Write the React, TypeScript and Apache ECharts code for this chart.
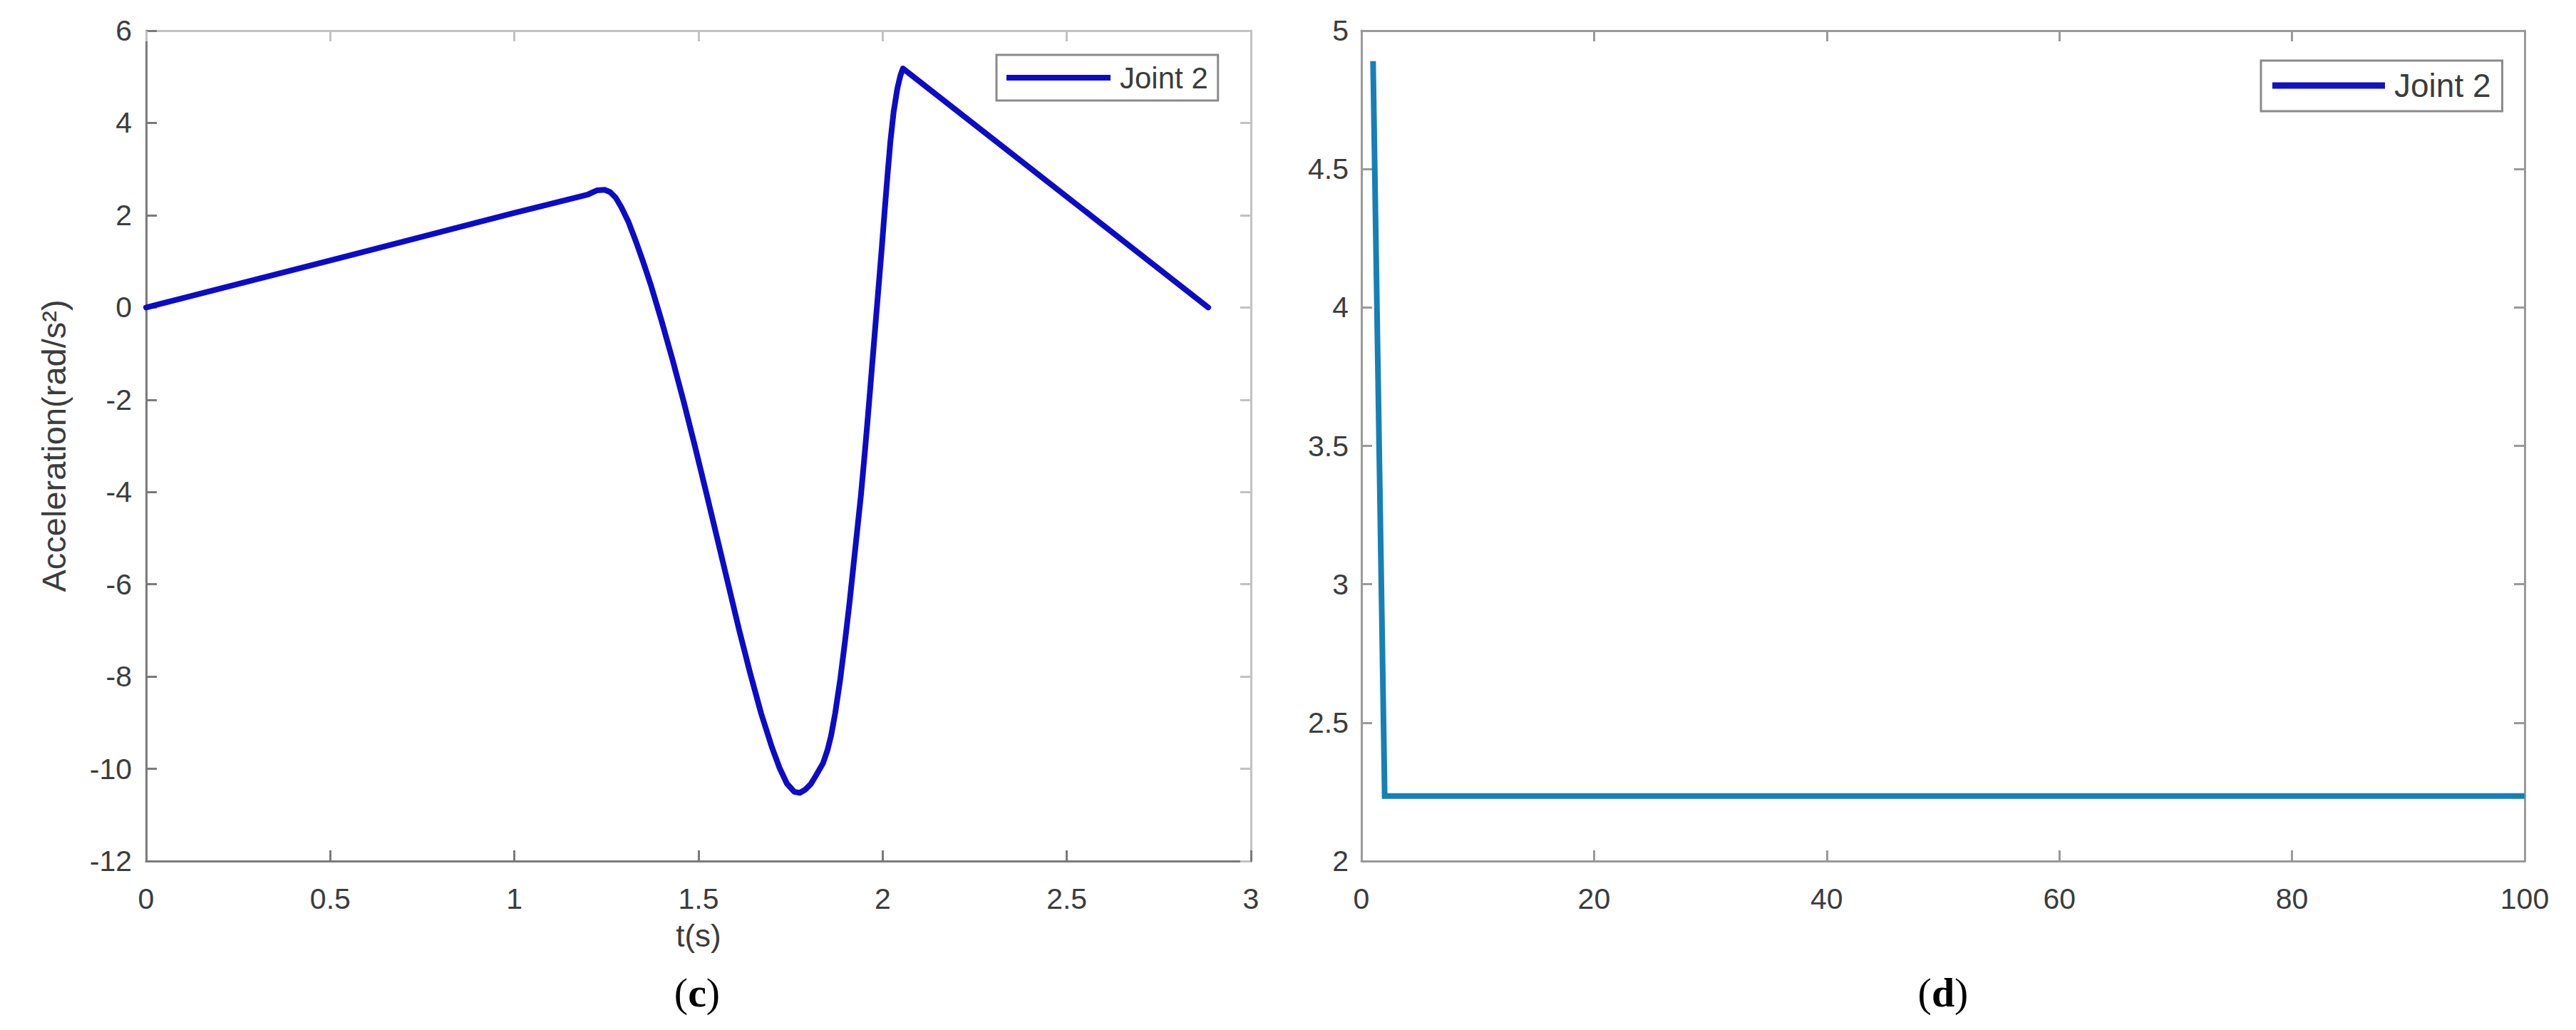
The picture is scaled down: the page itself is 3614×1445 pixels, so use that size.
import React, { useEffect, useRef } from "react";
import * as echarts from "echarts";

// Panel (c): joint 2 acceleration vs time
const accTime = [
  0, 0.5, 1.0, 1.2, 1.225, 1.245, 1.26, 1.275, 1.29, 1.31, 1.33, 1.35, 1.37, 1.4,
  1.43, 1.46, 1.49, 1.52, 1.55, 1.58, 1.61, 1.64, 1.67, 1.7, 1.72, 1.74, 1.76, 1.775,
  1.79, 1.805, 1.82, 1.838, 1.85, 1.86, 1.871, 1.885, 1.898, 1.91, 1.92, 1.93, 1.941,
  1.95, 1.958, 1.966, 1.974, 1.982, 1.99, 1.998, 2.005, 2.013, 2.021, 2.03, 2.04,
  2.048, 2.055, 2.884,
];
const accValue = [
  0, 1.02, 2.05, 2.45, 2.54, 2.55, 2.5, 2.38, 2.18, 1.85, 1.43, 0.98, 0.5, -0.3,
  -1.15, -2.05, -3.0, -3.98, -4.98, -5.98, -6.98, -7.92, -8.8, -9.55, -9.98, -10.32, -10.5, -10.52,
  -10.45, -10.33, -10.13, -9.88, -9.6, -9.28, -8.8, -8.05, -7.22, -6.4, -5.65, -4.9, -4.07,
  -3.28, -2.55, -1.78, -1.0, -0.22, 0.55, 1.33, 2.05, 2.85, 3.6, 4.25, 4.75,
  5.02, 5.18, 0,
];

// Panel (d): joint 2 value vs iteration
const iterIndex = [1, 2, 100];
const iterValue = [4.89, 2.235, 2.235];

const seriesName = "Joint 2";
const yTitleC = "Acceleration(rad/s²)";
const xTitleC = "t(s)";
const captionC = "c";
const captionD = "d";

const SANS = "'Liberation Sans', Arial, Helvetica, sans-serif";
const SERIF = "'Liberation Serif', 'Times New Roman', serif";
const LABEL = { fontFamily: SANS, fontSize: 41, color: "#3c3c3c" };

function boxAxis(
  gridIndex: number,
  min: number,
  max: number,
  interval: number,
  position: string,
  color: string,
  showLabel: boolean,
  margin: number
) {
  return {
    type: "value",
    gridIndex,
    min,
    max,
    interval,
    position,
    axisLine: { show: true, onZero: false, lineStyle: { color, width: 3 } },
    axisTick: { show: true, inside: true, length: 15, lineStyle: { color, width: 3 } },
    axisLabel: { show: showLabel, margin, ...LABEL },
    splitLine: { show: false },
  };
}

function caption(x: number, letter: string) {
  return {
    type: "text",
    x,
    y: 1392,
    style: {
      text: "({b|" + letter + "})",
      fontFamily: SERIF,
      fontSize: 58,
      fill: "#000",
      align: "center",
      verticalAlign: "middle",
      rich: { b: { fontFamily: SERIF, fontSize: 58, fontWeight: "bold", fill: "#000" } },
    },
  };
}

export default function App() {
  const ref = useRef<HTMLDivElement>(null);
  useEffect(() => {
    const chart = echarts.init(ref.current!, null, { renderer: "svg" });
    const darkC = "#7a7a7a";
    const lightC = "#c2c2c2";
    const midD = "#9a9a9a";
    chart.setOption({
      animation: false,
      backgroundColor: "#ffffff",
      textStyle: { fontFamily: SANS },
      grid: [
        { left: 205, top: 43, width: 1550, height: 1165 },
        { left: 1910, top: 43, width: 1632, height: 1165 },
      ],
      xAxis: [
        {
          ...boxAxis(0, 0, 3, 0.5, "bottom", darkC, true, 32),
          name: xTitleC,
          nameLocation: "middle",
          nameGap: 82,
          nameTextStyle: { fontFamily: SANS, fontSize: 44, color: "#3c3c3c" },
        },
        boxAxis(0, 0, 3, 0.5, "top", lightC, false, 8),
        boxAxis(1, 0, 100, 20, "bottom", midD, true, 32),
        boxAxis(1, 0, 100, 20, "top", midD, false, 8),
      ],
      yAxis: [
        {
          ...boxAxis(0, -12, 6, 2, "left", darkC, true, 20),
          name: yTitleC,
          nameLocation: "middle",
          nameGap: 106,
          nameRotate: 90,
          nameTextStyle: { fontFamily: SANS, fontSize: 47, color: "#3c3c3c" },
        },
        boxAxis(0, -12, 6, 2, "right", lightC, false, 8),
        boxAxis(1, 2, 5, 0.5, "left", midD, true, 18),
        boxAxis(1, 2, 5, 0.5, "right", midD, false, 8),
      ],
      legend: [
        {
          data: [{ name: seriesName, icon: "rect", itemStyle: { color: "#0c0cc6" } }],
          selectedMode: false,
          left: 1398,
          top: 77,
          itemWidth: 146,
          itemHeight: 8,
          padding: [11, 14, 11, 14],
          borderColor: "#8a8a8a",
          borderWidth: 3,
          backgroundColor: "#ffffff",
          textStyle: {
            fontFamily: SANS,
            fontSize: 42,
            lineHeight: 38,
            color: "#3c3c3c",
            padding: [0, 0, 0, 8],
          },
        },
        {
          data: [{ name: seriesName, icon: "rect", itemStyle: { color: "#1212c2" } }],
          selectedMode: false,
          left: 3172,
          top: 85,
          itemWidth: 158,
          itemHeight: 9,
          padding: [12, 16, 13, 16],
          borderColor: "#8a8a8a",
          borderWidth: 3,
          backgroundColor: "#ffffff",
          textStyle: {
            fontFamily: SANS,
            fontSize: 46,
            lineHeight: 42,
            color: "#3c3c3c",
            padding: [0, 0, 0, 8],
          },
        },
      ],
      series: [
        {
          name: seriesName,
          type: "line",
          xAxisIndex: 0,
          yAxisIndex: 0,
          symbol: "none",
          data: accTime.map((t, i) => [t, accValue[i]]),
          lineStyle: { color: "#0c0cc6", width: 8, cap: "round", join: "round" },
          itemStyle: { color: "#0c0cc6" },
          z: 3,
        },
        {
          name: seriesName,
          type: "line",
          xAxisIndex: 2,
          yAxisIndex: 2,
          symbol: "none",
          data: iterIndex.map((k, i) => [k, iterValue[i]]),
          lineStyle: { color: "#1680b6", width: 8, cap: "butt", join: "miter" },
          itemStyle: { color: "#1680b6" },
          z: 3,
        },
      ],
      graphic: [caption(978, captionC), caption(2726, captionD)],
    });
    return () => chart.dispose();
  }, []);
  return (
    <div
      ref={ref}
      style={{ position: "absolute", left: 0, top: 0, width: 3614, height: 1445, background: "#fff" }}
    />
  );
}
